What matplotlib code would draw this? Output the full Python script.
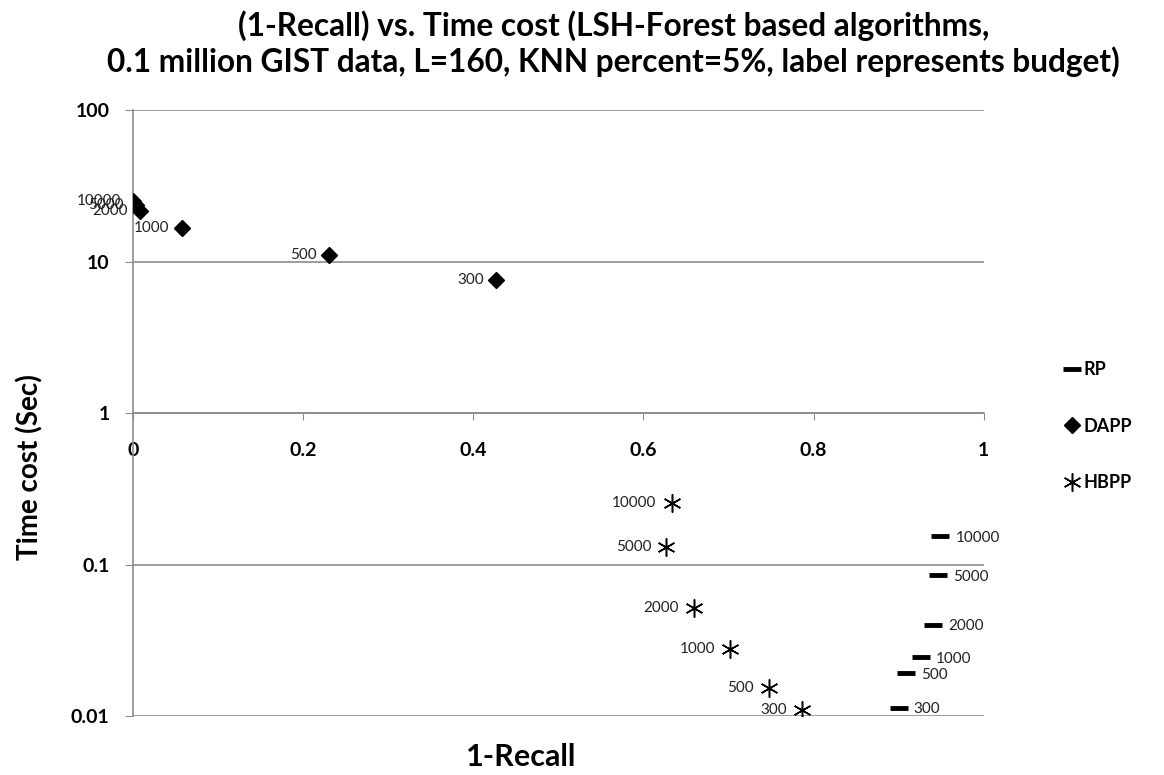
import numpy as np
import matplotlib.pyplot as plt
from matplotlib.ticker import FixedLocator, FixedFormatter, NullLocator

plt.rcParams['font.family'] = ['Lato', 'DejaVu Sans']

# budgets used as point labels
budgets = ["10000", "5000", "2000", "1000", "500", "300"]

# RP
rp_x = [0.949, 0.946, 0.940, 0.926, 0.909, 0.900]
rp_y = [0.154, 0.085, 0.040, 0.0245, 0.0192, 0.0113]

# DAPP
dapp_x = [0.000, 0.003, 0.008, 0.057, 0.230, 0.427]
dapp_y = [25.0, 23.5, 21.5, 16.6, 11.0, 7.55]

# HBPP
hbpp_x = [0.633, 0.627, 0.659, 0.702, 0.748, 0.787]
hbpp_y = [0.255, 0.130, 0.052, 0.0277, 0.0153, 0.011]

fig = plt.figure(figsize=(11.64, 7.75), dpi=100)
ax = fig.add_axes([0.1145, 0.076, 0.7305, 0.782])

ax.set_yscale('log')
ax.set_ylim(0.01, 100)
ax.set_xlim(0, 1)

grid_col = '#8c8c8c'
for v in [0.01, 0.1, 1, 10, 100]:
    ax.axhline(v, color=grid_col, lw=1.2, zorder=1)

# 系列の描画
ax.plot(rp_x, rp_y, ls='none', marker='_', ms=13, mew=3.5, color='black',
        label='RP', zorder=3)
ax.plot(dapp_x, dapp_y, ls='none', marker='D', ms=8, color='black',
        label='DAPP', zorder=3)
ax.plot(hbpp_x, hbpp_y, ls='none', marker=(6, 2, 0), ms=13, mew=1.1,
        color='black', label='HBPP', zorder=3)

lab_kw = dict(fontsize=11, color='#222222', va='center', zorder=4)
for b, x, y in zip(budgets, dapp_x, dapp_y):
    ax.annotate(b, (x, y), xytext=(-9, 0), textcoords='offset points',
                ha='right', **lab_kw)
for b, x, y in zip(budgets, hbpp_x, hbpp_y):
    ax.annotate(b, (x, y), xytext=(-11, 0), textcoords='offset points',
                ha='right', **lab_kw)
for b, x, y in zip(budgets, rp_x, rp_y):
    ax.annotate(b, (x, y), xytext=(11, -1), textcoords='offset points',
                ha='left', **lab_kw)

# axes style
for s in ['top', 'right']:
    ax.spines[s].set_visible(False)
ax.spines['bottom'].set_position(('data', 1))
ax.spines['bottom'].set_color(grid_col)
ax.spines['left'].set_color(grid_col)
ax.spines['left'].set_linewidth(1.2)
ax.spines['bottom'].set_linewidth(1.2)

ax.set_xticks([0, 0.2, 0.4, 0.6, 0.8, 1.0])
ax.set_xticklabels(['0', '0.2', '0.4', '0.6', '0.8', '1'])
ax.yaxis.set_major_locator(FixedLocator([0.01, 0.1, 1, 10, 100]))
ax.yaxis.set_major_formatter(FixedFormatter(['0.01', '0.1', '1', '10', '100']))
ax.yaxis.set_minor_locator(NullLocator())
ax.tick_params(axis='x', direction='out', length=5, color=grid_col,
               labelsize=14, pad=16)
ax.tick_params(axis='y', direction='out', length=6, color=grid_col,
               labelsize=14, pad=11)
for t in ax.get_xticklabels() + ax.get_yticklabels():
    t.set_fontweight('bold')

fig.text(0.026, 0.397, 'Time cost (Sec)', rotation=90, fontsize=20,
         fontweight='bold', ha='center', va='center')
fig.text(0.4476, 0.023, '1-Recall', fontsize=22, fontweight='bold',
         ha='center', va='center')

fig.text(0.527, 0.944, '(1-Recall) vs. Time cost (LSH-Forest based algorithms,\n'
         '0.1 million GIST data, L=160, KNN percent=5%, label represents budget)',
         fontsize=22.8, fontweight='bold', ha='center', va='center',
         linespacing=1.2)

leg = fig.legend(loc='center left', bbox_to_anchor=(0.9, 0.45),
                 frameon=False, handletextpad=0.2, handlelength=0.9,
                 labelspacing=2.2, prop={'weight': 'bold', 'size': 13})

fig.savefig('out.png', dpi=100)
